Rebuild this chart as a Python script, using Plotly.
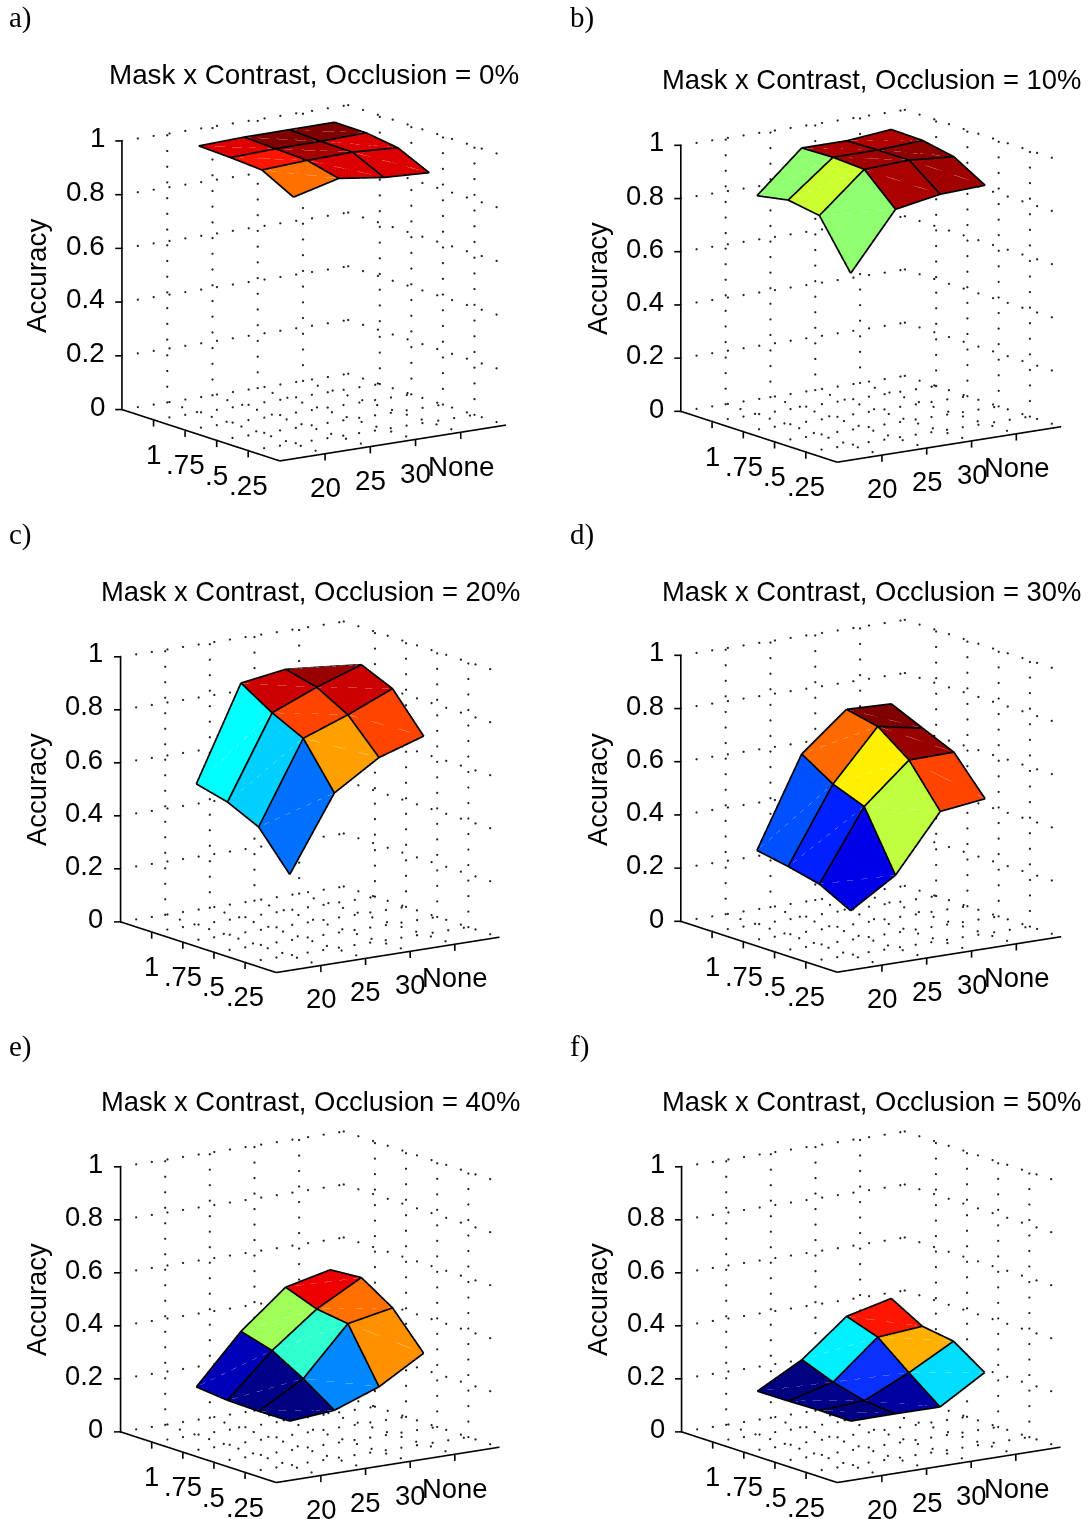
import numpy as np
import plotly.graph_objects as go

W, H = 1088, 1519
MASK_LABELS = ["1", ".75", ".5", ".25"]
CONTRAST_LABELS = ["20", "25", "30", "None"]
Z_TICKS = [0, 0.2, 0.4, 0.6, 0.8, 1]
Z_LABELS = ["0", "0.2", "0.4", "0.6", "0.8", "1"]
POSITIONS = [1, 2, 3, 4]

occlusion_0 = [[.993, .999, 1.000, 1.001], [.988, .994, .995, 1.000], [.980, .989, .993, .983], [.917, .960, .937, .928]]
occlusion_10 = [[.822, .975, .975, .991], [.844, .978, .979, .988], [.824, .971, .979, .965], [.645, .859, .889, .896]]
occlusion_20 = [[.532, .886, .911, .895], [.502, .812, .882, .940], [.446, .754, .816, .888], [.305, .586, .693, .747]]
occlusion_30 = [[.278, .614, .755, .749], [.256, .539, .729, .696], [.228, .493, .641, .644], [.166, .273, .486, .507]]
occlusion_40 = [[.181, .364, .504, .543], [.169, .330, .460, .552], [.166, .262, .443, .476], [.167, .181, .243, .343]]
occlusion_50 = [[.165, .257, .394, .435], [.166, .211, .354, .368], [.169, .179, .258, .350], [.167, .168, .167, .270]]

colors_0 = [["#e00000", "#800000", "#800000"], ["#ff1500", "#a80000", "#dd0000"], ["#ff7000", "#dd0000", "#dd0000"]]
colors_10 = [["#90ff70", "#aa0000", "#b00000"], ["#ccff30", "#a00000", "#900000"], ["#90ff70", "#aa0000", "#a00000"]]
colors_20 = [["#00ffff", "#cc0000", "#990000"], ["#00d0ff", "#ff4400", "#cc0000"], ["#0070ff", "#ffa000", "#ff4400"]]
colors_30 = [["#0050ff", "#ff6a00", "#800000"], ["#0020ff", "#fff000", "#990000"], ["#0000e8", "#bfff3f", "#ff4400"]]
colors_40 = [["#0000b8", "#a0ff58", "#ee0000"], ["#000088", "#30ffd0", "#ff7000"], ["#000080", "#0088ff", "#ff9000"]]
colors_50 = [["#000080", "#00f0ff", "#ff1500"], ["#000088", "#0a30ff", "#ffb000"], ["#000080", "#0000a0", "#00ddff"]]

panels = [
    dict(letter="a)", occ="0%", z=occlusion_0, c=colors_0, L=(121.7, 410), height=269.3,
         title=(314, 74.5), label=(7, 18), acc=(36, 276), fs=27.8),
    dict(letter="b)", occ="10%", z=occlusion_10, c=colors_10, L=(680.7, 411.7), height=266.7,
         title=(871, 80), label=(568, 18), acc=(597, 279), fs=27.4),
    dict(letter="c)", occ="20%", z=occlusion_20, c=colors_20, L=(120, 921.7), height=265.7,
         title=(310, 591), label=(7, 535), acc=(36, 790), fs=27.4),
    dict(letter="d)", occ="30%", z=occlusion_30, c=colors_30, L=(680.7, 921.7), height=266.7,
         title=(871, 591), label=(568, 535), acc=(597, 790), fs=27.4),
    dict(letter="e)", occ="40%", z=occlusion_40, c=colors_40, L=(120, 1432.3), height=265.7,
         title=(310, 1101), label=(7, 1046), acc=(36, 1300), fs=27.4),
    dict(letter="f)", occ="50%", z=occlusion_50, c=colors_50, L=(681.3, 1432.3), height=265.7,
         title=(871, 1101), label=(568, 1046), acc=(597, 1300), fs=27.4),
]

SANS = "Liberation Sans"
SERIF = "Liberation Serif"
EYE_DIR = np.array([.7986, -.5571, .2271])
EYE_DIR = EYE_DIR / np.linalg.norm(EYE_DIR)
PX_PER_ASPECT = 180.8  # height in px of the z axis at aspect ratio 1
DOM_W, DOM_H = 430, 400
SHIFT_X, SHIFT_Y = 1, -0.3
# nudge of the mesh outlines toward the camera, so the faces do not hide half of each line
LIFT = np.array([EYE_DIR[0] * 5, EYE_DIR[1] * 5, EYE_DIR[2]])

fig = go.Figure()
layout = {}
annotations = []


def seg(pts, lift=0.0):
    xs, ys, zs = [], [], []
    d = LIFT * lift
    for a, b in pts:
        xs += [a[0] + d[0], b[0] + d[0], None]
        ys += [a[1] + d[1], b[1] + d[1], None]
        zs += [a[2] + d[2], b[2] + d[2], None]
    return xs, ys, zs


for n, p in enumerate(panels):
    sid = "scene" if n == 0 else f"scene{n + 1}"
    Z = np.array(p["z"])
    vx, vy, vz = [], [], []
    for i in range(4):
        for j in range(4):
            vx.append(POSITIONS[i]); vy.append(POSITIONS[j]); vz.append(Z[i, j])
    idx = lambda i, j: 4 * i + j
    I, J, K, FC = [], [], [], []
    diag = []
    for i in range(3):
        for j in range(3):
            a, b, c, d = idx(i, j), idx(i + 1, j), idx(i + 1, j + 1), idx(i, j + 1)
            I += [a, a]; J += [b, c]; K += [c, d]
            FC += [p["c"][i][j]] * 2
            diag.append(((POSITIONS[i], POSITIONS[j], Z[i, j]),
                         (POSITIONS[i + 1], POSITIONS[j + 1], Z[i + 1, j + 1])))
    fig.add_trace(go.Mesh3d(x=vx, y=vy, z=vz, i=I, j=J, k=K, facecolor=FC, flatshading=True,
                            lighting=dict(ambient=1, diffuse=0, specular=0, roughness=1, fresnel=0),
                            hoverinfo="skip", showscale=False, scene=sid))
    mesh = []
    for i in range(4):
        for j in range(3):
            mesh.append(((POSITIONS[i], POSITIONS[j], Z[i, j]), (POSITIONS[i], POSITIONS[j + 1], Z[i, j + 1])))
            mesh.append(((POSITIONS[j], POSITIONS[i], Z[j, i]), (POSITIONS[j + 1], POSITIONS[i], Z[j + 1, i])))
    x, y, z = seg(diag, 0.005)
    fig.add_trace(go.Scatter3d(x=x, y=y, z=z, mode="lines", opacity=0.5, line=dict(color="white", width=1),
                               hoverinfo="skip", showlegend=False, scene=sid))
    x, y, z = seg(mesh, 0.015)
    fig.add_trace(go.Scatter3d(x=x, y=y, z=z, mode="lines", line=dict(color="black", width=3.4),
                               hoverinfo="skip", showlegend=False, scene=sid))
    gx, gy, gz = [], [], []
    ys_d = np.arange(0, 5.01, 0.35)
    xs_d = np.arange(0, 5.01, 0.47)
    zs_d = np.arange(0, 1.001, 0.0585)
    for zt in Z_TICKS:
        for yy in ys_d:
            gx.append(0); gy.append(yy); gz.append(zt)
        for xx in xs_d:
            gx.append(xx); gy.append(5); gz.append(zt)
    for t in POSITIONS:
        for zz in zs_d:
            gx.append(0); gy.append(t); gz.append(zz)
            gx.append(t); gy.append(5); gz.append(zz)
        for yy in ys_d:
            gx.append(t); gy.append(yy); gz.append(0)
        for xx in xs_d:
            gx.append(xx); gy.append(t); gz.append(0)
    fig.add_trace(go.Scatter3d(x=gx, y=gy, z=gz, mode="markers",
                               marker=dict(color="#222222", size=1.3, line=dict(width=0)),
                               hoverinfo="skip", showlegend=False, scene=sid))
    ax = [((0, 0, 0), (0, 0, 1)), ((0, 0, 0), (5, 0, 0)), ((5, 0, 0), (5, 5, 0))]
    for t in POSITIONS:
        ax.append(((t, 0, 0), (t, 0, -0.025)))
        ax.append(((5, t, 0), (5, t, -0.025)))
    for zt in Z_TICKS:
        ax.append(((0, 0, zt), (-.0677, -.1, zt)))
    x, y, z = seg(ax)
    fig.add_trace(go.Scatter3d(x=x, y=y, z=z, mode="lines", line=dict(color="black", width=3.2),
                               hoverinfo="skip", showlegend=False, scene=sid))

    s_ann = []
    font = dict(family=SANS, size=p["fs"], color="black")
    for t, lab in zip(POSITIONS, MASK_LABELS):
        s_ann.append(dict(x=t, y=0, z=0, text=lab, showarrow=False, xanchor="center", yanchor="middle",
                          yshift=-34.5, font=font))
    for t, lab in zip(POSITIONS, CONTRAST_LABELS):
        s_ann.append(dict(x=5, y=t, z=0, text=lab, showarrow=False, xanchor="center", yanchor="middle",
                          yshift=-33.5, font=font))
    for zt, lab in zip(Z_TICKS, Z_LABELS):
        s_ann.append(dict(x=0, y=0, z=zt, text=lab, showarrow=False, xanchor="right", yanchor="middle",
                          xshift=-15, yshift=3.5, font=font))

    Lx, Ly = p["L"]
    h = p["height"]
    s = h / 270
    cx = Lx + s * (159 + 225) / 2 + SHIFT_X
    cy = Ly + s * (51.5 - 35) / 2 - h / 2 + SHIFT_Y
    eye = EYE_DIR * 2.0
    asp = h / PX_PER_ASPECT
    layout[sid] = dict(
        domain=dict(x=[(cx - DOM_W / 2) / W, (cx + DOM_W / 2) / W],
                    y=[1 - (cy + DOM_H / 2) / H, 1 - (cy - DOM_H / 2) / H]),
        xaxis=dict(visible=False, range=[-.2, 5.2]),
        yaxis=dict(visible=False, range=[-.2, 5.2]),
        zaxis=dict(visible=False, range=[-.04, 1.04]),
        aspectmode="manual", aspectratio=dict(x=asp, y=asp, z=asp),
        camera=dict(projection=dict(type="orthographic"), eye=dict(x=eye[0], y=eye[1], z=eye[2]),
                    center=dict(x=0, y=0, z=0), up=dict(x=0, y=0, z=1)),
        bgcolor="white", hovermode=False, dragmode=False,
        annotations=s_ann,
    )

    def paper(px, py):
        return px / W, 1 - py / H
    tx, ty = paper(*p["title"])
    annotations.append(dict(x=tx, y=ty, xref="paper", yref="paper", showarrow=False, xanchor="center",
                            yanchor="middle", text=f"Mask x Contrast, Occlusion = {p['occ']}", font=font))
    tx, ty = paper(*p["acc"])
    annotations.append(dict(x=tx, y=ty, xref="paper", yref="paper", showarrow=False, xanchor="center",
                            yanchor="middle", textangle=-90, text="Accuracy", font=font))
    tx, ty = paper(*p["label"])
    annotations.append(dict(x=tx, y=ty, xref="paper", yref="paper", showarrow=False, xanchor="left",
                            yanchor="middle", text=p["letter"],
                            font=dict(family=SERIF, size=29, color="black")))

fig.update_layout(width=W, height=H, margin=dict(l=0, r=0, t=0, b=0, pad=0), autosize=False,
                  paper_bgcolor="white", showlegend=False, annotations=annotations, **layout)
fig.write_html("out.html", config=dict(displayModeBar=False),
               post_script="document.body.style.margin='0';document.documentElement.style.overflow='hidden';")
